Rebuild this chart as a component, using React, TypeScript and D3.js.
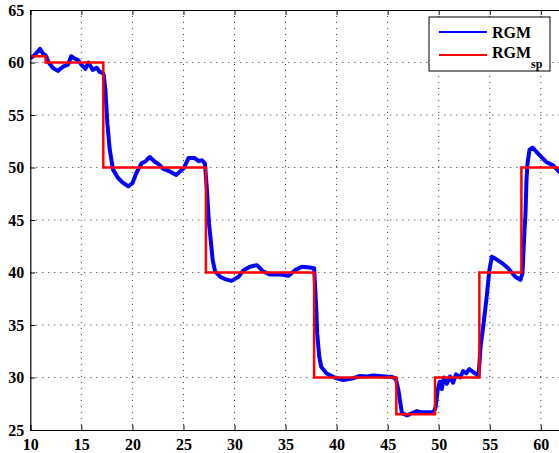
import React, { useEffect, useRef } from 'react';
import * as d3 from 'd3';

const rgmTime = [
  10.0, 10.3, 10.6, 10.95, 11.2, 11.5, 11.8, 12.2, 12.7, 13.2, 13.7, 14.0, 14.3, 14.7, 15.0, 15.4, 15.7, 16.1, 16.5, 16.8,
  17.1, 17.2, 17.35, 17.55, 17.78, 18.1, 18.6, 19.0, 19.6, 20.0, 20.4, 20.9, 21.3, 21.7, 22.2, 22.6, 23.0, 23.7, 24.3, 25.0,
  25.5, 26.1, 26.5, 26.8, 27.1, 27.3, 27.5, 27.67, 27.86, 28.1, 28.6, 29.0, 29.7, 30.4, 30.86, 31.5, 32.2, 32.8, 33.5, 34.5,
  35.3, 35.9, 36.6, 37.2, 37.8, 38.0, 38.1, 38.3, 38.5, 39.0, 39.8, 40.65, 41.5, 42.3, 43.0, 43.6, 44.7, 45.4, 45.8, 46.05,
  46.4, 46.9, 47.4, 47.85, 48.3, 48.8, 49.5, 49.7, 49.9, 50.1, 50.3, 50.5, 50.8, 51.1, 51.4, 51.7, 52.1, 52.4, 52.7, 53.0,
  53.4, 53.7, 53.9, 54.1, 54.4, 54.7, 54.96, 55.2, 55.5, 56.2, 56.8, 57.5, 58.0, 58.2, 58.4, 58.5, 58.6, 58.7, 58.9, 59.2,
  59.85, 60.5, 61.2, 61.9
];
const rgmValue = [
  60.4, 60.6, 60.9, 61.3, 60.9, 60.7, 60.0, 59.5, 59.2, 59.6, 59.8, 60.6, 60.4, 60.2, 59.8, 59.4, 60.0, 59.3, 59.5, 59.1,
  59.0, 58.8, 57.4, 54.2, 51.7, 49.8, 49.0, 48.6, 48.2, 48.5, 49.5, 50.4, 50.6, 51.0, 50.55, 50.3, 49.9, 49.6, 49.3, 49.9,
  50.9, 50.9, 50.6, 50.7, 50.4, 47.9, 44.7, 43.1, 41.2, 40.1, 39.6, 39.4, 39.2, 39.6, 40.2, 40.55, 40.7, 40.1, 39.8, 39.8,
  39.7, 40.2, 40.55, 40.5, 40.4, 36.7, 34.2, 32.0, 31.0, 30.4, 30.0, 29.76, 29.9, 30.14, 30.1, 30.2, 30.1, 30.05, 29.9, 28.8,
  26.6, 26.4, 26.6, 26.8, 26.7, 26.7, 26.7, 27.2, 28.8, 29.6, 28.9, 30.0, 29.4, 30.1, 29.5, 30.3, 30.0, 30.6, 30.4, 30.8,
  30.5, 30.3, 30.1, 32.9, 35.2, 37.7, 40.2, 41.5, 41.35, 40.9, 40.4, 39.6, 39.3, 39.9, 44.0, 45.6, 48.8, 50.4, 51.7, 51.9,
  51.2, 50.55, 50.2, 49.5
];

// setpoint RGM_sp (steps)
const spTime = [10, 11.5, 17.15, 27.2, 37.8, 45.85, 49.64, 53.98, 58.1, 62];
const spValue = [60.6, 60, 50, 40, 30, 26.5, 30, 40, 50, 50];

const xTicks = [10, 15, 20, 25, 30, 35, 40, 45, 50, 55, 60];
const yTicks = [25, 30, 35, 40, 45, 50, 55, 60, 65];

export default function App() {
  const svgRef = useRef<SVGSVGElement>(null);

  useEffect(() => {
    const svg = d3.select(svgRef.current);
    svg.selectAll('*').remove();

    const width = 559;
    const height = 453;
    const left = 30.3;
    const top = 10;
    const bottom = 430;

    const x = d3.scaleLinear().domain([10, 62]).range([left, left + 52 * 10.21]);
    const y = d3.scaleLinear().domain([25, 65]).range([bottom, top]);
    const right = x(62);

    svg.attr('width', width).attr('height', height);

    const font = "'Liberation Serif', 'Times New Roman', serif";

    // grid
    const grid = svg.append('g');
    grid.selectAll('line.gx')
      .data(xTicks.slice(1))
      .join('line')
      .attr('x1', (d) => x(d)).attr('x2', (d) => x(d))
      .attr('y1', top).attr('y2', bottom)
      .attr('stroke', '#333').attr('stroke-width', 1)
      .attr('stroke-dasharray', '1,5');
    grid.selectAll('line.gy')
      .data(yTicks.slice(1, -1))
      .join('line')
      .attr('y1', (d) => y(d)).attr('y2', (d) => y(d))
      .attr('x1', left).attr('x2', right)
      .attr('stroke', '#333').attr('stroke-width', 1)
      .attr('stroke-dasharray', '1,5');

    const clip = svg.append('defs').append('clipPath').attr('id', 'plot');
    clip.append('rect').attr('x', left).attr('y', top).attr('width', right - left).attr('height', bottom - top);

    const plot = svg.append('g').attr('clip-path', 'url(#plot)');

    const rgm = d3.line<number>()
      .x((d, i) => x(rgmTime[i]))
      .y((d) => y(d));
    plot.append('path')
      .attr('d', rgm(rgmValue))
      .attr('fill', 'none')
      .attr('stroke', '#0000ff')
      .attr('stroke-width', 4)
      .attr('stroke-linejoin', 'round');

    const sp = d3.line<number>()
      .x((d, i) => x(spTime[i]))
      .y((d) => y(d))
      .curve(d3.curveStepAfter);
    plot.append('path')
      .attr('d', sp(spValue))
      .attr('fill', 'none')
      .attr('stroke', '#ff0000')
      .attr('stroke-width', 2.5);

    // axes with inward ticks
    const xAxis = d3.axisBottom(x).tickValues(xTicks).tickSize(-5).tickPadding(10).tickFormat(d3.format('d'));
    const gx = svg.append('g').attr('transform', `translate(0,${bottom})`).call(xAxis);
    const gxTop = svg.append('g').attr('transform', `translate(0,${top})`)
      .call(d3.axisTop(x).tickValues(xTicks).tickSize(-5).tickFormat(() => ''));
    const yAxis = d3.axisLeft(y).tickValues(yTicks).tickSize(-5).tickPadding(6).tickFormat(d3.format('d'));
    const gy = svg.append('g').attr('transform', `translate(${left},0)`).call(yAxis);

    [gx, gxTop, gy].forEach((g) => {
      g.select('.domain').attr('stroke', '#000').attr('stroke-width', 1.2);
      g.selectAll('.tick line').attr('stroke', '#000');
      g.selectAll('.tick text')
        .attr('fill', '#000')
        .style('font-family', font)
        .style('font-weight', 'bold')
        .style('font-size', '16px');
    });
    gx.selectAll('.tick text').attr('dy', '0.6em');

    // legend
    const lg = svg.append('g');
    lg.append('rect')
      .attr('x', 429).attr('y', 17).attr('width', 121).attr('height', 54)
      .attr('fill', '#fff').attr('stroke', '#000').attr('stroke-width', 1);
    lg.append('line').attr('x1', 439).attr('x2', 487).attr('y1', 32).attr('y2', 32)
      .attr('stroke', '#0000ff').attr('stroke-width', 2);
    lg.append('line').attr('x1', 439).attr('x2', 487).attr('y1', 55).attr('y2', 55)
      .attr('stroke', '#ff0000').attr('stroke-width', 2);
    lg.append('text').attr('x', 492).attr('y', 38).text('RGM')
      .style('font-family', font).style('font-weight', 'bold').style('font-size', '16px');
    const t2 = lg.append('text').attr('x', 492).attr('y', 58)
      .style('font-family', font).style('font-weight', 'bold').style('font-size', '16px');
    t2.append('tspan').text('RGM');
    t2.append('tspan').attr('dy', 10).style('font-size', '12px').text('sp');
  }, []);

  return (
    <div>
      <svg ref={svgRef} style={{ position: 'absolute', left: 0, top: 0, background: '#fff' }} />
    </div>
  );
}
